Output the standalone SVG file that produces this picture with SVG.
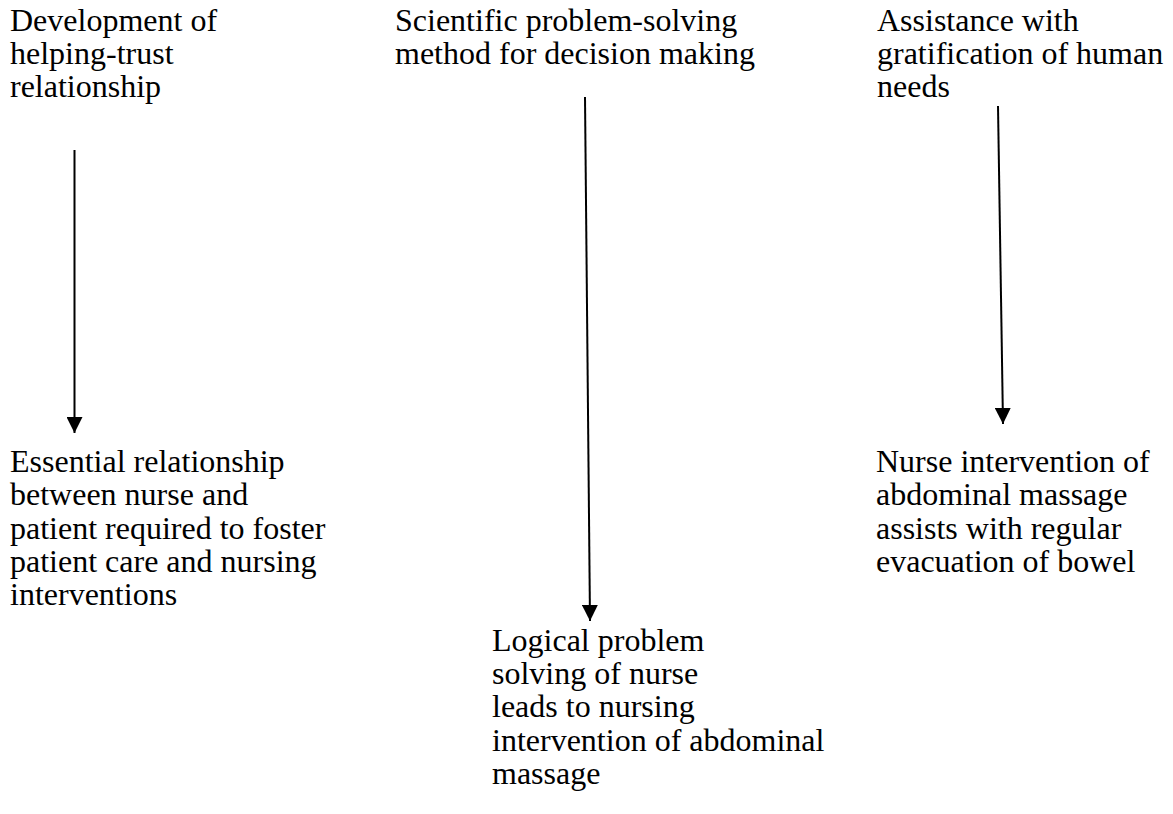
<svg xmlns="http://www.w3.org/2000/svg" width="1173" height="814" viewBox="0 0 1173 814">
<defs>
<style>
.t{font-family:"Liberation Serif","Times New Roman",serif;font-size:32px;fill:#000}
.c{stroke:#000;stroke-width:2;fill:none}
</style>
<marker id="ah" viewBox="0 0 16 16" refX="16" refY="8" markerWidth="16" markerHeight="16" markerUnits="userSpaceOnUse" orient="auto">
<path d="M0,0 L16,8 L0,16 Z" fill="#000"/>
</marker>
</defs>
<rect width="1173" height="814" fill="#fff"/>
<g id="n1"><text class="t"><tspan x="10" y="31">Development of</tspan><tspan x="10" y="64">helping-trust</tspan><tspan x="10" y="97">relationship</tspan></text></g>
<g id="n2"><text class="t"><tspan x="395" y="31">Scientific problem-solving</tspan><tspan x="395" y="64">method for decision making</tspan></text></g>
<g id="n3"><text class="t"><tspan x="877" y="31">Assistance with</tspan><tspan x="877" y="64">gratification of human</tspan><tspan x="877" y="97">needs</tspan></text></g>
<g id="n4"><text class="t"><tspan x="10" y="472">Essential relationship</tspan><tspan x="10" y="505">between nurse and</tspan><tspan x="10" y="539">patient required to foster</tspan><tspan x="10" y="572">patient care and nursing</tspan><tspan x="10" y="605">interventions</tspan></text></g>
<g id="n5"><text class="t"><tspan x="492" y="651">Logical problem</tspan><tspan x="492" y="684">solving of nurse</tspan><tspan x="492" y="717">leads to nursing</tspan><tspan x="492" y="751">intervention of abdominal</tspan><tspan x="492" y="784">massage</tspan></text></g>
<g id="n6"><text class="t"><tspan x="876" y="472">Nurse intervention of</tspan><tspan x="876" y="505">abdominal massage</tspan><tspan x="876" y="539">assists with regular</tspan><tspan x="876" y="572">evacuation of bowel</tspan></text></g>
<g id="connectors">
<line class="c" x1="74.5" y1="150" x2="74.5" y2="433" marker-end="url(#ah)"/>
<line class="c" x1="585" y1="97" x2="590" y2="621" marker-end="url(#ah)"/>
<line class="c" x1="998" y1="106" x2="1003" y2="424" marker-end="url(#ah)"/>
</g>
</svg>
